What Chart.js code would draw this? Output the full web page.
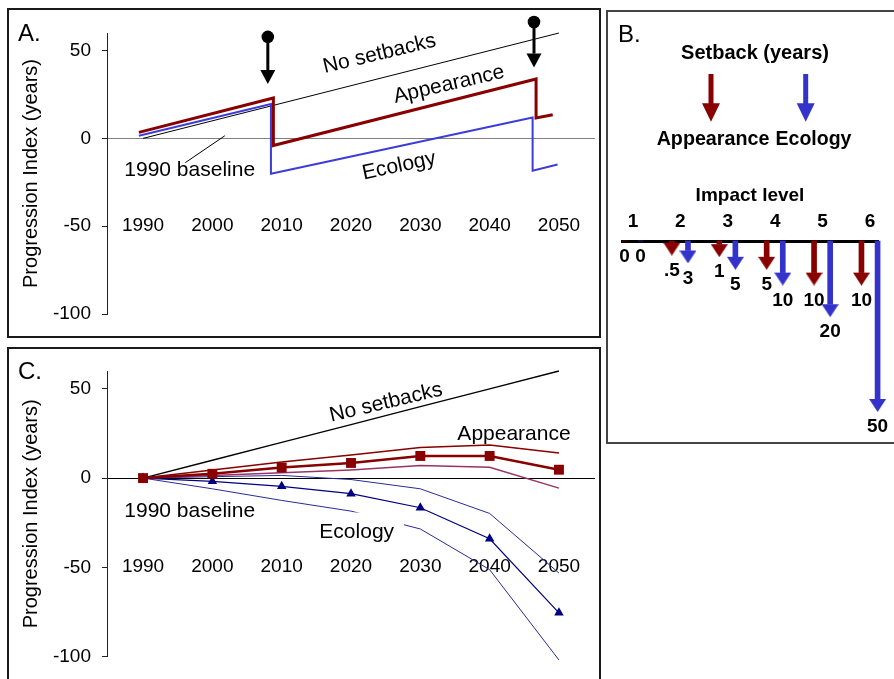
<!DOCTYPE html>
<html><head><meta charset="utf-8">
<script src="https://cdn.jsdelivr.net/npm/chart.js@4.4.1/dist/chart.umd.min.js"></script>
<style>
html,body{margin:0;padding:0;background:#fff;overflow:hidden;}
#stage{position:relative;width:894px;height:679px;overflow:hidden;background:#fff;}
.box{position:absolute;box-sizing:border-box;}
canvas{position:absolute;left:0;top:0;}
</style></head><body>
<div id="stage">
<div class="box" style="left:7px;top:8px;width:594px;height:330px;border:2px solid #1a1a1a"></div>
<div class="box" style="left:7px;top:347px;width:594px;height:360px;border:2px solid #1a1a1a"></div>
<div class="box" style="left:606px;top:10px;width:300px;height:434px;border:2px solid #444"></div>
<canvas id="cA" width="894" height="679"></canvas>
<canvas id="cC" width="894" height="679"></canvas>
<canvas id="cB" width="894" height="679"></canvas>
</div>
<script>
// ---------- DATA ----------
const yearTicks = [1990, 2000, 2010, 2020, 2030, 2040, 2050];
const valueTicks = [-100, -50, 0, 50];

// Panel A
const yearsNoSetbackA = [1990, 2050];
const noSetbackA = [0, 60];
const yearsAppearanceA = [1989.4, 2008.8, 2008.8, 2046.7, 2046.7, 2049.1];
const appearanceA = [3.4, 23.0, -4.1, 33.8, 11.6, 13.5];
const yearsEcologyA = [1989.4, 2008.45, 2008.45, 2046.2, 2046.2, 2049.8];
const ecologyA = [1.5, 19.5, -20.2, 11.9, -18.4, -14.9];
const setbackEventYears = [2008.0, 2046.4];
const setbackEventTop = [57.8, 66.3];
const setbackEventTip = [30.9, 40.3];

// Panel B
const impactLevels = [1, 2, 3, 4, 5, 6];
const setbackAppearance = [0, 0.5, 1, 5, 10, 10];
const setbackEcology = [0, 3, 5, 10, 20, 50];

// Panel C
const yearsC = [1990, 2000, 2010, 2020, 2030, 2040, 2050];
const noSetbackC = [0, 10, 20, 30, 40, 50, 60];
const appearanceMid = [0, 2.4, 5.9, 8.5, 12.4, 12.4, 4.7];
const appearanceHigh = [0, 4.5, 9, 13, 17.2, 18.5, 14];
const appearanceLow = [0, 1.5, 3, 4.6, 7, 6.1, -5.6];
const ecologyMid = [0, -1.8, -4.6, -8.7, -16.6, -34.0, -75.5];
const ecologyHigh = [0, 0.8, 1.5, -0.8, -6, -19.8, -53.2];
const ecologyLow = [0, -6, -12.5, -18.5, -28.5, -51.3, -101.9];

// ---------- STYLE ----------
const FONT = '"Liberation Sans", Arial, Helvetica, sans-serif';
const RED = '#880000', BLUE_A = '#3c3cd8', NAVY = '#000080', NAVY2 = '#2a2a9c', PLUM = '#993366', BLUE_B = '#3333cc';

function pairs(xs, ys) { return xs.map((x, i) => ({x: x, y: ys[i]})); }

function drawText(ctx, str, x, y, o) {
  ctx.save();
  ctx.font = (o.weight || 'normal') + ' ' + o.size + 'px ' + FONT;
  ctx.textAlign = o.align || 'center';
  ctx.textBaseline = o.baseline || 'middle';
  ctx.translate(x, y);
  if (o.rotate) ctx.rotate(o.rotate * Math.PI / 180);
  if (o.box) { ctx.fillStyle = '#fff'; ctx.fillRect(o.box[0], o.box[1], o.box[2], o.box[3]); }
  ctx.fillStyle = o.color || '#000';
  ctx.fillText(str, 0, 0);
  ctx.restore();
}

function headCanvas(color, w, h) {
  const c = document.createElement('canvas');
  c.width = w; c.height = h * 2;
  const g = c.getContext('2d');
  g.fillStyle = color;
  g.beginPath(); g.moveTo(0, h); g.lineTo(w, h); g.lineTo(w / 2, 2 * h); g.closePath(); g.fill();
  return c;
}

function timeScales(zeroColor) {
  return {
    x: {
      type: 'linear', min: 1984.8, max: 2055.2, position: {y: -50},
      grid: {display: false, drawTicks: false}, border: {display: false},
      afterBuildTicks: ax => { ax.ticks = yearTicks.map(v => ({value: v})); },
      ticks: {color: '#000', font: {family: FONT, size: 19}, padding: -12, maxRotation: 0, autoSkip: false,
              callback: v => String(v)}
    },
    y: {
      type: 'linear', min: -100, max: 60, position: 'left',
      afterFit: ax => { ax.width = 107; },
      afterBuildTicks: ax => { ax.ticks = valueTicks.map(v => ({value: v})); },
      grid: {drawOnChartArea: true, drawTicks: true, tickLength: 5, tickColor: '#222', lineWidth: 1,
             color: c => (c.tick && c.tick.value === 0) ? zeroColor : 'rgba(0,0,0,0)'},
      border: {display: true, color: '#222', width: 1},
      ticks: {color: '#000', font: {family: FONT, size: 19}, padding: 11, callback: v => String(v)},
      title: {display: true, text: 'Progression Index (years)', color: '#000',
              font: {family: FONT, size: 20}, padding: {top: 19, bottom: 0}}
    }
  };
}

const baseOpts = {
  responsive: false, devicePixelRatio: 1, animation: false, events: [],
  plugins: {legend: {display: false}, tooltip: {enabled: false}}
};

// ---------- PANEL A ----------
const annotA = {
  id: 'annotA',
  afterDatasetsDraw(chart) {
    const ctx = chart.ctx, xs = chart.scales.x, ys = chart.scales.y;
    setbackEventYears.forEach((yr, i) => {
      const px = xs.getPixelForValue(yr);
      const pTop = ys.getPixelForValue(setbackEventTop[i]);
      const pTip = ys.getPixelForValue(setbackEventTip[i]);
      ctx.save();
      ctx.fillStyle = '#000'; ctx.strokeStyle = '#000'; ctx.lineWidth = 3;
      ctx.beginPath(); ctx.moveTo(px, pTop); ctx.lineTo(px, pTip - 14); ctx.stroke();
      ctx.beginPath(); ctx.arc(px, pTop, 6.3, 0, Math.PI * 2); ctx.fill();
      ctx.beginPath(); ctx.moveTo(px - 7.5, pTip - 14); ctx.lineTo(px + 7.5, pTip - 14); ctx.lineTo(px, pTip); ctx.closePath(); ctx.fill();
      ctx.restore();
    });
    ctx.save();
    ctx.strokeStyle = '#000'; ctx.lineWidth = 1;
    ctx.beginPath();
    ctx.moveTo(xs.getPixelForValue(1996.1), ys.getPixelForValue(-13.8));
    ctx.lineTo(xs.getPixelForValue(2001.8), ys.getPixelForValue(1.5));
    ctx.stroke();
    ctx.restore();
    drawText(ctx, 'A.', 18, 40.7, {size: 24, align: 'left', baseline: 'alphabetic'});
    drawText(ctx, '1990 baseline', 189.7, 170.5, {size: 21});
    drawText(ctx, 'No setbacks', 379.5, 54, {size: 21, rotate: -13.5});
    drawText(ctx, 'Appearance', 449, 84.5, {size: 21, rotate: -13});
    drawText(ctx, 'Ecology', 399, 166, {size: 21, rotate: -12});
  }
};

new Chart(document.getElementById('cA'), {
  type: 'line',
  data: {datasets: [
    {data: pairs(yearsAppearanceA, appearanceA), borderColor: RED, borderWidth: 3, pointRadius: 0, tension: 0, clip: false},
    {data: pairs(yearsEcologyA, ecologyA), borderColor: BLUE_A, borderWidth: 2, pointRadius: 0, tension: 0, clip: false},
    {data: pairs(yearsNoSetbackA, noSetbackA), borderColor: '#000', borderWidth: 1, pointRadius: 0, tension: 0, clip: false}
  ]},
  options: Object.assign({}, baseOpts, {
    layout: {padding: {left: 0, top: 33, right: 299, bottom: 365}},
    scales: timeScales('#808080')
  }),
  plugins: [annotA]
});

// ---------- PANEL C ----------
const annotC = {
  id: 'annotC',
  afterDatasetsDraw(chart) {
    const ctx = chart.ctx;
    drawText(ctx, 'C.', 18, 379.3, {size: 24, align: 'left', baseline: 'alphabetic'});
    drawText(ctx, 'No setbacks', 386, 402.7, {size: 21, rotate: -13.4});
    drawText(ctx, 'Appearance', 514, 434, {size: 21});
    drawText(ctx, 'Ecology', 356.7, 532, {size: 21, box: [-38.7, -19.5, 86, 36]});
    drawText(ctx, '1990 baseline', 189.7, 511, {size: 21});
  }
};

new Chart(document.getElementById('cC'), {
  type: 'line',
  data: {datasets: [
    {data: pairs(yearsC, appearanceMid), borderColor: RED, borderWidth: 2.5, pointStyle: 'rect', pointRadius: 7,
     pointBackgroundColor: RED, pointBorderWidth: 0, tension: 0, clip: false},
    {data: pairs(yearsC, appearanceHigh), borderColor: RED, borderWidth: 1.5, pointRadius: 0, tension: 0, clip: false},
    {data: pairs(yearsC, appearanceLow), borderColor: PLUM, borderWidth: 1.5, pointRadius: 0, tension: 0, clip: false},
    {data: pairs(yearsC, ecologyMid), borderColor: NAVY, borderWidth: 1.2, pointStyle: 'triangle', pointRadius: 5.5,
     pointBackgroundColor: NAVY, pointBorderWidth: 0, tension: 0, clip: false},
    {data: pairs(yearsC, ecologyHigh), borderColor: NAVY2, borderWidth: 1, pointRadius: 0, tension: 0, clip: false},
    {data: pairs(yearsC, ecologyLow), borderColor: NAVY2, borderWidth: 1, pointRadius: 0, tension: 0, clip: false},
    {data: pairs(yearsC, noSetbackC), borderColor: '#000', borderWidth: 1.3, pointRadius: 0, tension: 0, clip: false}
  ]},
  options: Object.assign({}, baseOpts, {
    layout: {padding: {left: 0, top: 371, right: 299, bottom: 20}},
    scales: timeScales('#000')
  }),
  plugins: [annotC]
});

// ---------- PANEL B ----------
const RED_OFF = -0.18, BLUE_OFF = 0.16;
const headRed = headCanvas(RED, 17, 13);
const headBlue = headCanvas(BLUE_B, 17, 13);
const fmtSetback = v => String(v).replace(/^0\./, '.');

const annotB = {
  id: 'annotB',
  afterDatasetsDraw(chart) {
    const ctx = chart.ctx, xs = chart.scales.x, ys = chart.scales.y;
    drawText(ctx, 'B.', 618, 42, {size: 24, align: 'left', baseline: 'alphabetic'});
    drawText(ctx, 'Setback (years)', 755, 53.5, {size: 20, weight: 'bold'});
    [[711, RED], [805.7, BLUE_B]].forEach(([x, col]) => {
      ctx.save();
      ctx.fillStyle = col;
      ctx.fillRect(x - 2.5, 74, 5, 30);
      ctx.beginPath(); ctx.moveTo(x - 9, 103.3); ctx.lineTo(x + 9, 103.3); ctx.lineTo(x, 121.7); ctx.closePath(); ctx.fill();
      ctx.restore();
    });
    drawText(ctx, 'Appearance', 713, 139.5, {size: 19.7, weight: 'bold'});
    drawText(ctx, 'Ecology', 813.5, 139.5, {size: 19.5, weight: 'bold'});
    const put = (vals, off) => impactLevels.forEach((L, i) => {
      const v = vals[i];
      const px = xs.getPixelForValue(L + off);
      const py = ys.getPixelForValue(v) + (v > 0 ? 28 : 16);
      drawText(ctx, fmtSetback(v), px, py, {size: 19, weight: 'bold'});
    });
    put(setbackAppearance, RED_OFF);
    put(setbackEcology, BLUE_OFF);
  }
};

new Chart(document.getElementById('cB'), {
  type: 'bar',
  data: {datasets: [
    {type: 'bar', data: impactLevels.map((L, i) => ({x: L + RED_OFF, y: setbackAppearance[i]})),
     backgroundColor: RED, borderWidth: 0, barThickness: 5, maxBarThickness: 5, grouped: false, clip: false},
    {type: 'bar', data: impactLevels.map((L, i) => ({x: L + BLUE_OFF, y: setbackEcology[i]})),
     backgroundColor: BLUE_B, borderWidth: 0, barThickness: 5, maxBarThickness: 5, grouped: false, clip: false},
    {type: 'scatter', data: impactLevels.map((L, i) => ({x: L + RED_OFF, y: setbackAppearance[i]})),
     pointStyle: headRed, pointRadius: c => (c.raw && c.raw.y > 0) ? 6 : 0, clip: false},
    {type: 'scatter', data: impactLevels.map((L, i) => ({x: L + BLUE_OFF, y: setbackEcology[i]})),
     pointStyle: headBlue, pointRadius: c => (c.raw && c.raw.y > 0) ? 6 : 0, clip: false}
  ]},
  options: Object.assign({}, baseOpts, {
    layout: {padding: {left: 622, top: 0, right: 16, bottom: 0}},
    scales: {
      x: {
        type: 'linear', min: 0.768, max: 6.169, position: 'top', offset: false,
        afterFit: ax => { ax.height = 241; },
        afterBuildTicks: ax => { ax.ticks = impactLevels.map(v => ({value: v})); },
        grid: {display: false, drawTicks: false, offset: false},
        border: {display: true, color: '#000', width: 3},
        ticks: {color: '#000', font: {family: FONT, size: 19, weight: 'bold'}, padding: 8, maxRotation: 0,
                autoSkip: false, callback: v => String(v)},
        title: {display: true, text: 'Impact level', color: '#000',
                font: {family: FONT, size: 19, weight: 'bold'}, padding: {top: 184, bottom: 0}}
      },
      y: {type: 'linear', min: 0, max: 136.4, reverse: true, display: false}
    }
  }),
  plugins: [annotB]
});
</script>
</body></html>
